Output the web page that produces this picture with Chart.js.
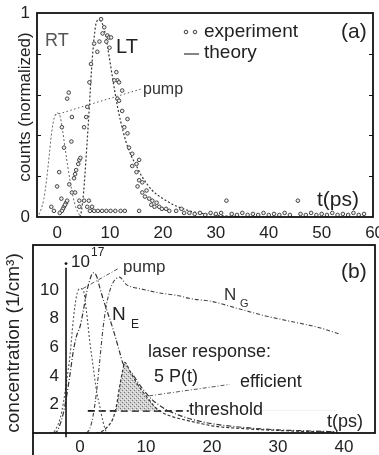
<!DOCTYPE html>
<html lang="en">
<head>
<meta charset="UTF-8" />
<title>Laser pump response</title>
<script src="https://cdn.jsdelivr.net/npm/chart.js@4"></script>
<style>
  body { margin: 0; background: #fff; }
  #wrap { position: relative; width: 379px; height: 455px; overflow: hidden; }
  canvas { position: absolute; left: 0; }
  #chartA { top: 0; }
  #chartB { top: 240px; }
</style>
</head>
<body>
<div id="wrap">
  <canvas id="chartA" width="379" height="245"></canvas>
  <canvas id="chartB" width="379" height="215"></canvas>
</div>
<script>
// ---------- panel (a): counts (normalized) vs t(ps)
const xTicksA = [0, 10, 20, 30, 40, 50, 60];

const expT = [8.3, 8.9, 9.5, 9.8, 10.2, 9.3, 7.0, 8.0, 7.6, 6.4, 6.1, 11.2, 11.4, 11.7, 10.8, 12.3, 11.4, 5.7, 5.5, 5.1,
  8.6, 9.9, 2.2, 1.9, 2.8, 0.9, 2.7, 1.3, 4.2, 4.0, 4.4, 3.6, 3.2, 3.4, 0.4, 0.0, 2.3, 2.8, 3.4, 0.8,
  -1.1, -0.6, 1.3, 1.7, 1.9, 1.5, 1.1, 0.9, 0.5, 4.2, 5.1, 6.0, 6.6, 5.7, 4.2, 6.2, 7.0, 7.7, 8.5, 9.3,
  10.1, 11.0, 12.0, 12.8, 15.5, 11.7, 12.3, 13.3, 12.7, 13.3, 13.6, 14.2, 15.5, 15.0, 14.2, 15.0, 15.5, 16.1, 15.2, 16.9,
  16.1, 17.4, 18.0, 18.8, 19.3, 20.6, 21.2, 22.5, 23.5, 24.0, 17.8, 19.8, 16.6, 18.4,
  25, 26, 27, 28, 29, 30, 31, 32, 33, 34, 35, 36, 37, 38, 39, 40, 41, 42, 43, 44, 45.5, 46, 47, 48, 49, 50, 51, 52, 53, 54, 55, 56, 57, 58];
const expY = [0.97, 0.93, 0.89, 0.88, 0.88, 0.86, 0.85, 0.86, 0.81, 0.75, 0.66, 0.71, 0.67, 0.66, 0.67, 0.62, 0.58, 0.54, 0.49, 0.44,
  0.90, 0.83, 0.61, 0.58, 0.49, 0.44, 0.37, 0.34, 0.28, 0.26, 0.29, 0.23, 0.19, 0.21, 0.22, 0.15, 0.16, 0.12, 0.12, 0.09,
  0.05, 0.03, 0.05, 0.07, 0.08, 0.06, 0.04, 0.03, 0.02, 0.08, 0.08, 0.08, 0.05, 0.05, 0.05, 0.03, 0.03, 0.03, 0.03, 0.03,
  0.03, 0.03, 0.03, 0.03, 0.03, 0.57, 0.52, 0.48, 0.44, 0.41, 0.34, 0.31, 0.28, 0.26, 0.25, 0.22, 0.18, 0.17, 0.15, 0.13,
  0.12, 0.09, 0.08, 0.07, 0.05, 0.04, 0.03, 0.03, 0.04, 0.02, 0.06, 0.04, 0.10, 0.05,
  0.02, 0.015, 0.02, 0.01, 0.02, 0.015, 0.02, 0.08, 0.015, 0.01, 0.02, 0.01, 0.015, 0.01, 0.02, 0.01, 0.015, 0.01, 0.02, 0.01,
  0.08, 0.015, 0.01, 0.02, 0.01, 0.015, 0.01, 0.02, 0.01, 0.015, 0.01, 0.02, 0.01, 0.015];

// pump / RT theory curve
const rtT = [-4, -3.5, -3, -2.5, -2, -1.5, -1, -0.5, 0, 0.5, 1, 1.5, 2, 2.5, 3, 3.5, 4, 4.5];
const rtY = [0, 0.01, 0.04, 0.09, 0.18, 0.30, 0.42, 0.49, 0.51, 0.50, 0.43, 0.34, 0.25, 0.17, 0.10, 0.05, 0.02, 0];

// LT theory curve
const ltT = [4.3, 4.6, 5, 5.5, 6, 6.5, 7, 7.5, 8, 8.5, 9, 9.5, 10, 10.5, 11, 11.5, 12, 13, 14, 15, 16, 18, 20, 22, 25, 28, 32, 40];
const ltY = [0, 0.03, 0.12, 0.30, 0.50, 0.72, 0.88, 0.96, 0.965, 0.95, 0.91, 0.84, 0.76, 0.68, 0.60, 0.53, 0.47, 0.37, 0.30, 0.25, 0.20, 0.13, 0.09, 0.06, 0.03, 0.015, 0.005, 0];

// leader from "pump" label
const pumpLeadA_T = [-0.4, 16.2];
const pumpLeadA_Y = [0.50, 0.63];

// ---------- panel (b): concentration (1/cm^3) vs t(ps)
const xTicksB = [0, 10, 20, 30, 40];
const yTicksB = [2, 4, 6, 8, 10];

const pumpT = [-4.5, -4, -3.5, -3, -2.5, -2, -1.5, -1, -0.5, 0, 0.5, 1, 1.5, 2, 2.5, 3, 3.5, 4, 4.5];
const pumpY = [0, 0.05, 0.4, 1.0, 2.1, 3.7, 5.4, 7.9, 9.6, 10.1, 10.0, 8.5, 6.4, 4.7, 3.0, 1.9, 0.8, 0.1, 0];

const neT = [-4, -3.5, -3, -2.5, -2, -1.5, -1, -0.5, 0, 0.5, 1, 1.5, 2, 2.5, 3, 3.5, 4, 5, 6, 6.5, 7, 8, 9, 10, 11, 12, 13, 15, 17, 20, 25, 30, 35, 39];
const neY = [0, 0.1, 0.6, 1.4, 2.6, 4.1, 5.7, 6.8, 7.4, 8.5, 9.8, 10.7, 11.2, 11.0, 10.2, 9.4, 8.7, 7.3, 5.7, 4.9, 4.6, 4.1, 3.4, 2.8, 2.3, 1.95, 1.65, 1.25, 0.95, 0.65, 0.38, 0.22, 0.14, 0.09];

const ngT = [1, 1.5, 2, 2.5, 3, 3.5, 4, 4.5, 5, 5.5, 6, 6.5, 7, 8, 9, 10, 12, 15, 16.7, 20, 24, 28, 32, 36, 39.5];
const ngY = [0, 0.3, 1.2, 2.8, 5.0, 7.3, 8.9, 9.9, 10.5, 10.8, 10.9, 10.7, 10.4, 10.2, 10.1, 10.0, 9.8, 9.6, 9.4, 9.2, 8.7, 8.2, 7.8, 7.4, 6.9];

// laser response 5 P(t)
const laserT = [2.5, 3, 3.5, 4, 4.5, 5, 5.5, 6, 6.5, 6.8, 7.2, 7.5, 8, 8.6, 9.5, 10.2, 11.4, 12.6, 14, 16, 18, 20, 25, 30, 35, 39];
const laserY = [0, 0.05, 0.15, 0.35, 0.6, 1.0, 1.8, 3.2, 4.4, 4.95, 4.7, 4.4, 4.0, 3.5, 2.9, 2.5, 1.8, 1.4, 1.15, 0.9, 0.7, 0.5, 0.3, 0.18, 0.1, 0.06];

const threshold = 1.55;
const thresholdT = [1.2, 16.5];

const pumpLeadB_T = [0.45, 5.8];
const pumpLeadB_Y = [10.1, 11.5];
const effLeadT = [10.5, 22.7];
const effLeadY = [2.6, 3.4];

const innerAxisAt = -2.1;

// ---------- helpers
Chart.defaults.font.family = '"Liberation Sans", Arial, sans-serif';
Chart.defaults.color = '#222';

function pts(ts, ys) { return ts.map((t, i) => ({ x: t, y: ys[i] })); }

function curve(ts, ys, dash, color, width) {
  return {
    data: pts(ts, ys), borderColor: color || '#444', borderWidth: width || 1.2,
    borderDash: dash, pointRadius: 0, fill: false, cubicInterpolationMode: 'monotone'
  };
}

function fixPad(scale) {
  scale.paddingLeft = 0; scale.paddingRight = 0;
  scale.paddingTop = 0; scale.paddingBottom = 0;
}

function text(ctx, s, x, y, size, color, align) {
  ctx.font = size + 'px "Liberation Sans", Arial, sans-serif';
  ctx.fillStyle = color || '#222';
  ctx.textAlign = align || 'left';
  ctx.textBaseline = 'middle';
  ctx.fillText(s, x, y);
}

function vtext(ctx, s, x, y, size) {
  ctx.save();
  ctx.translate(x, y);
  ctx.rotate(-Math.PI / 2);
  ctx.font = size + 'px "Liberation Sans", Arial, sans-serif';
  ctx.fillStyle = '#222';
  ctx.textAlign = 'center';
  ctx.textBaseline = 'middle';
  ctx.fillText(s, 0, 0);
  ctx.restore();
}

// stipple for the shaded laser pulse
const pc = document.createElement('canvas');
pc.width = 4; pc.height = 4;
const pctx = pc.getContext('2d');
pctx.fillStyle = '#d0d0d0';
pctx.fillRect(0, 0, 4, 4);
pctx.fillStyle = '#777';
pctx.fillRect(0, 0, 1, 1);
pctx.fillRect(2, 2, 1, 1);
pctx.fillStyle = '#f4f4f4';
pctx.fillRect(3, 1, 1, 1);
pctx.fillRect(1, 3, 1, 1);
const stipple = pctx.createPattern(pc, 'repeat');

// ---------- panel (a)
const decorA = {
  id: 'decorA',
  afterDraw(chart) {
    const ctx = chart.ctx, ca = chart.chartArea, ys = chart.scales.y;
    ctx.save();
    ctx.strokeStyle = '#111';
    ctx.lineWidth = 1.8;
    ctx.strokeRect(ca.left, ca.top, ca.right - ca.left, ca.bottom - ca.top);
    ctx.lineWidth = 1;
    ys.ticks.forEach(tk => {
      if (tk.value <= 0.001 || tk.value >= 0.999) return;
      const py = Math.round(ys.getPixelForValue(tk.value)) + 0.5;
      ctx.beginPath();
      ctx.moveTo(ca.left, py); ctx.lineTo(ca.left + 4, py);
      ctx.moveTo(ca.right - 4, py); ctx.lineTo(ca.right, py);
      ctx.stroke();
    });

    vtext(ctx, 'counts (normalized)', 25, 107, 17);
    text(ctx, 'RT', 45, 41, 18, '#555');
    text(ctx, 'LT', 116, 47, 20, '#222');
    text(ctx, 'pump', 143, 90, 16, '#333');
    text(ctx, '(a)', 341, 32, 21);
    text(ctx, 't(ps)', 317, 200, 21);

    // legend
    ctx.fillStyle = '#eee';
    ctx.strokeStyle = '#444';
    [186, 195].forEach(x => {
      ctx.beginPath(); ctx.arc(x, 32, 1.8, 0, Math.PI * 2); ctx.fill(); ctx.stroke();
    });
    text(ctx, 'experiment', 204, 32, 19);
    ctx.strokeStyle = '#333';
    ctx.lineWidth = 1.2;
    ctx.beginPath(); ctx.moveTo(184, 54); ctx.lineTo(199, 54); ctx.stroke();
    text(ctx, 'theory', 204, 53, 19);
    ctx.restore();
  }
};

new Chart(document.getElementById('chartA'), {
  type: 'line',
  data: {
    datasets: [
      { data: pts(expT, expY), showLine: false, pointRadius: 1.8, pointBorderWidth: 1,
        pointBorderColor: '#444', pointBackgroundColor: '#eee' },
      curve(rtT, rtY, [2, 2], '#666', 1),
      curve(ltT, ltY, [2, 2], '#333', 1.2),
      curve(pumpLeadA_T, pumpLeadA_Y, [1.5, 2.5], '#555', 1)
    ]
  },
  options: {
    responsive: false, animation: false, devicePixelRatio: 1,
    layout: { padding: { left: 0, top: 13, right: 6, bottom: 0 } },
    plugins: { legend: { display: false }, tooltip: { enabled: false } },
    scales: {
      x: {
        type: 'linear', min: -3.8, max: 59.7,
        afterBuildTicks: s => { s.ticks = xTicksA.map(v => ({ value: v })); },
        afterFit: s => { s.height = 28; fixPad(s); },
        grid: { display: false, drawTicks: false }, border: { display: false },
        ticks: { padding: 6, font: { size: 17 }, color: '#222' }
      },
      y: {
        min: 0, max: 1,
        ticks: { stepSize: 0.2, padding: 7, font: { size: 17 }, color: '#222',
          callback: v => (Math.abs(v) < 1e-6 || Math.abs(v - 1) < 1e-6) ? String(Math.round(v)) : '' },
        afterFit: s => { s.width = 37; fixPad(s); },
        grid: { display: false, drawTicks: false }, border: { display: false }
      }
    }
  },
  plugins: [decorA]
});

// ---------- panel (b)
const decorB = {
  id: 'decorB',
  afterDraw(chart) {
    const ctx = chart.ctx, ca = chart.chartArea, xs = chart.scales.x, ys = chart.scales.y;
    ctx.save();
    ctx.strokeStyle = '#111';
    ctx.lineWidth = 1.8;
    ctx.strokeRect(ca.left, ca.top, ca.right - ca.left, ca.bottom - ca.top);
    ctx.beginPath(); ctx.moveTo(ca.left, ca.bottom); ctx.lineTo(ca.left, chart.height); ctx.stroke();

    // inner concentration axis with its tick labels
    const ax = xs.getPixelForValue(innerAxisAt);
    ctx.lineWidth = 1.6;
    ctx.beginPath();
    ctx.moveTo(ax, ys.getPixelForValue(11.55));
    ctx.lineTo(ax, ys.getPixelForValue(-0.3));
    ctx.stroke();
    ctx.fillStyle = '#111';
    ctx.beginPath(); ctx.arc(ax, ys.getPixelForValue(11.85), 1.4, 0, Math.PI * 2); ctx.fill();
    ys.ticks.forEach(tk => {
      text(ctx, String(tk.value), ax - 7, ys.getPixelForValue(tk.value), 17, '#222', 'right');
    });

    vtext(ctx, 'concentration (1/cm\u00b3)', 14, 103, 19);
    text(ctx, '10', 71, 22, 17);
    text(ctx, '17', 91, 13, 12);
    text(ctx, '(b)', 341, 32, 21);
    text(ctx, 'pump', 123, 27, 17, '#333');
    text(ctx, 'N', 112, 75, 19);
    text(ctx, 'E', 131, 85, 12);
    text(ctx, 'N', 224, 55, 17, '#333');
    text(ctx, 'G', 240, 64, 11, '#333');
    text(ctx, 'laser response:', 148, 112, 18);
    text(ctx, '5 P(t)', 154, 137, 18);
    text(ctx, 'efficient', 240, 142, 18);
    text(ctx, 'threshold', 189, 170, 18);
    text(ctx, 't(ps)', 327, 182, 18);
    ctx.restore();
  }
};

new Chart(document.getElementById('chartB'), {
  type: 'line',
  data: {
    datasets: [
      Object.assign(curve(laserT, laserY, [3, 2], '#333', 1.2),
        { fill: { target: { value: threshold }, above: stipple, below: 'rgba(0,0,0,0)' } }),
      curve(pumpT, pumpY, [2, 2], '#555', 1.1),
      curve(neT, neY, [5, 2, 1, 2], '#333', 1.2),
      curve(ngT, ngY, [4, 2, 1, 2], '#444', 1.1),
      curve(thresholdT, [threshold, threshold], [7, 4], '#111', 1.8),
      curve(pumpLeadB_T, pumpLeadB_Y, [4, 2, 1, 2], '#555', 1),
      curve(effLeadT, effLeadY, [4, 2, 1, 2], '#555', 1)
    ]
  },
  options: {
    responsive: false, animation: false, devicePixelRatio: 1,
    layout: { padding: { left: 33, top: 5, right: 4, bottom: 0 } },
    plugins: { legend: { display: false }, tooltip: { enabled: false } },
    scales: {
      x: {
        type: 'linear', min: -7.1, max: 44.7,
        afterBuildTicks: s => { s.ticks = xTicksB.map(v => ({ value: v })); },
        afterFit: s => { s.height = 22; fixPad(s); },
        grid: { display: false, drawTicks: false }, border: { display: false },
        ticks: { padding: 4, font: { size: 17 }, color: '#222' }
      },
      y: {
        min: 0, max: 13.15, position: { x: innerAxisAt },
        afterBuildTicks: s => { s.ticks = yTicksB.map(v => ({ value: v })); },
        afterFit: s => { fixPad(s); },
        grid: { display: false, drawTicks: false }, border: { display: false },
        ticks: { display: false }
      }
    }
  },
  plugins: [decorB]
});
</script>
</body>
</html>
